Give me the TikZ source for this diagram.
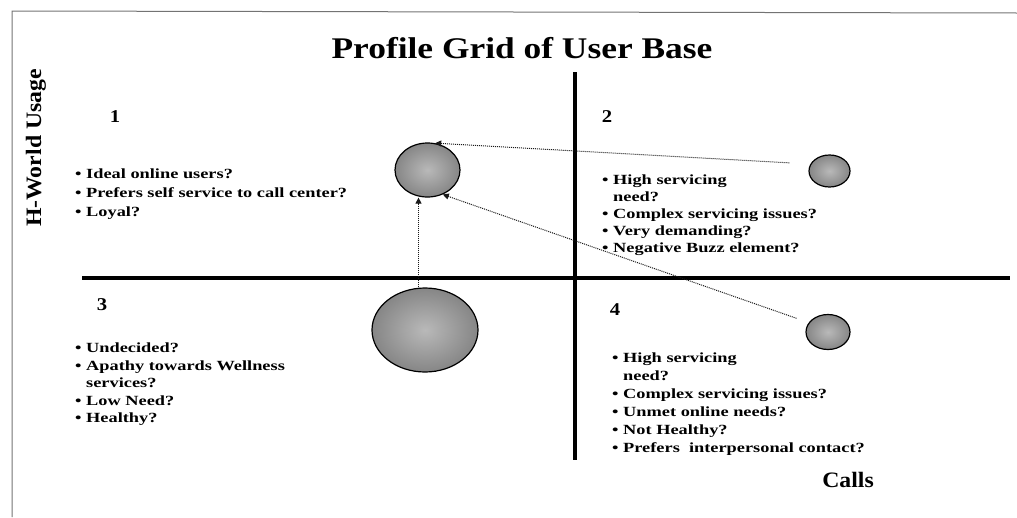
\documentclass[tikz,border=0pt]{standalone}
\usepackage{fontspec}
\setmainfont{Liberation Serif}
\newfontfamily\bodyfont{Liberation Serif}[FakeStretch=1.31]
\newfontfamily\numfont{Liberation Serif}[FakeStretch=1.15]
\newfontfamily\titlefont{Liberation Serif}[FakeStretch=1.18]
\newfontfamily\labfont{Liberation Serif}[FakeStretch=1.08]
\usetikzlibrary{shapes.geometric,arrows.meta}
\tikzset{
  ball/.style={ellipse, inner sep=0pt, draw=black, line width=1.2pt, inner color=gray!55, outer color=gray!95},
  conn/.style={densely dotted, line width=1pt, draw=black!90, -{Triangle[length=6pt,width=6pt]}},
  axisline/.style={line width=3.5pt, black, line cap=butt},
  frameline/.style={line width=1pt, black!55},
  qtext/.style={anchor=north west, inner sep=0pt, align=left},
  qfont/.style={font=\bodyfont\bfseries\fontsize{14}{#1}\selectfont},
  num/.style={inner sep=0pt, font=\numfont\bfseries\fontsize{18}{18}\selectfont}
}
\newcommand{\bul}{\textbullet\ }
\newcommand{\bulsp}{\hphantom{\textbullet}\ }
\begin{document}
\begin{tikzpicture}[x=1pt,y=-1pt]
\useasboundingbox (0,0) rectangle (1017,517);
% frame
\draw[frameline] (12,517) -- (12,11) -- (1017,13);
% title and axis labels
\node[inner sep=0pt, font=\titlefont\bfseries\fontsize{30}{30}\selectfont] (title) at (522,48) {Profile Grid of User Base};
\node[inner sep=0pt, rotate=90, font=\labfont\bfseries\fontsize{22}{22}\selectfont] (ylab) at (36,148) {H-World Usage};
\node[inner sep=0pt, font=\labfont\bfseries\fontsize{22}{22}\selectfont] (xlab) at (848,480) {Calls};
% axes
\coordinate (vtop) at (575,72);
\coordinate (vbot) at (575,460);
\coordinate (hleft) at (82,278);
\coordinate (hright) at (1010,278);
\draw[axisline] (vtop) -- (vbot);
\draw[axisline] (hleft) -- (hright);
% quadrant numbers
\node[num] (n1) at (115,117) {1};
\node[num] (n2) at (607,117) {2};
\node[num] (n3) at (102,305) {3};
\node[num] (n4) at (615,310) {4};
% quadrant texts
\node[qtext, qfont=19] (q1) at (75,169) {\bul Ideal online users?\\\bul Prefers self service to call center?\\\bul Loyal?};
\node[qtext, qfont=16.8] (q2) at (602,175) {\bul High servicing\\\bulsp need?\\\bul Complex servicing issues?\\\bul Very demanding?\\\bul Negative Buzz element?};
\node[qtext, qfont=17.5] (q3) at (75,343) {\bul Undecided?\\\bul Apathy towards Wellness\\\bulsp services?\\\bul Low Need?\\\bul Healthy?};
\node[qtext, qfont=18] (q4) at (612,353) {\bul High servicing\\\bulsp need?\\\bul Complex servicing issues?\\\bul Unmet online needs?\\\bul Not Healthy?\\\bul Prefers\ \ interpersonal contact?};
% balls
\node[ball, minimum width=65pt, minimum height=54pt] (e1) at (427.5,170) {};
\node[ball, minimum width=41pt, minimum height=32pt] (e2) at (829.5,171) {};
\node[ball, minimum width=106pt, minimum height=84pt] (e3) at (425,330) {};
\node[ball, minimum width=44pt, minimum height=35pt] (e4) at (828,332) {};
% connectors
\draw[conn, shorten <=21pt] (e2.160) -- (e1.74);
\draw[conn, shorten <=13pt] (e4.154) -- (e1.-58);
\draw[conn] ([xshift=-6.5pt]e3.north) -- ([xshift=-9pt]e1.south);
\end{tikzpicture}
\end{document}
